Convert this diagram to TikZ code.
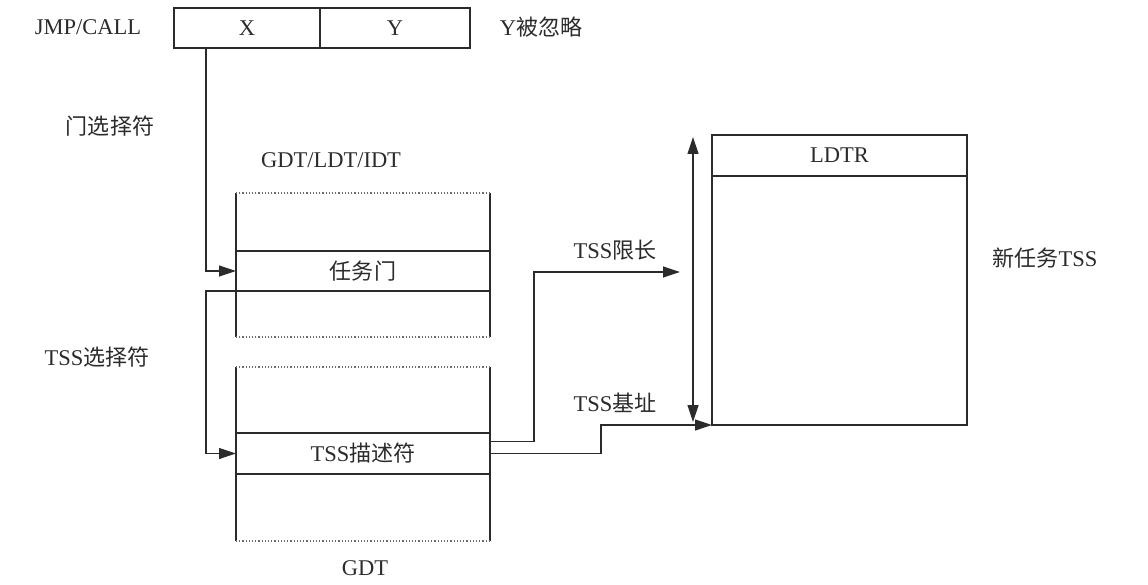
\documentclass[tikz,border=0pt]{standalone}
\usepackage{fontspec}
\setmainfont{Liberation Serif}
\newfontfamily\cjk{Noto Sans CJK SC}[Scale=0.98]
\usetikzlibrary{arrows.meta,positioning}
\definecolor{ink}{HTML}{2B2B2B}
\definecolor{dots}{HTML}{6E6E6E}
\tikzset{
  font=\fontsize{22.5}{26}\selectfont,
  >={Triangle[length=17pt,width=11pt]},
  cell/.style={draw=ink, line width=1.2pt, text=ink, inner sep=0pt,
    outer sep=0pt, minimum height=40pt},
  row/.style={cell, minimum width=254pt},
  frame/.style={inner sep=0pt, outer sep=0pt, minimum width=254pt},
  side/.style={draw=ink, line width=1.2pt},
  dotline/.style={draw=dots, line width=1.2pt, dotted},
  flow/.style={->, draw=ink, line width=1.2pt},
  tag/.style={text=ink, inner sep=1pt}
}

\begin{document}
\begin{tikzpicture}[x=1pt,y=-1pt]
  \useasboundingbox (0,0) rectangle (1148,585);

  % instruction
  \node[tag] (jmp) at (88,27) {JMP/CALL};
  \node[cell, minimum width=146pt] (selx) at (247,28) {X};
  \node[cell, minimum width=150pt, right=0pt of selx] (sely) {Y};
  \node[tag] (ign) at (541,27) {Y{\cjk 被忽略}};

  % descriptor tables
  \node[tag] (gname) at (331,160) {GDT/LDT/IDT};
  \node[frame, minimum height=144pt] (gtab) at (363,265) {};
  \node[row] (gate) at (363,271) {\cjk 任务门};

  \node[frame, minimum height=174pt] (dtab) at (363,454) {};
  \node[row, minimum height=41pt] (desc) at (363,453.5) {TSS{\cjk 描述符}};
  \node[tag] (dname) at (365,568) {GDT};

  \foreach \t in {gtab,dtab}{
    \draw[side] (\t.north west) -- (\t.south west);
    \draw[side] (\t.north east) -- (\t.south east);
    \draw[dotline] (\t.north west) -- (\t.north east);
    \draw[dotline] (\t.south west) -- (\t.south east);
  }

  % new task state segment
  \node[cell, minimum width=255pt, minimum height=290pt] (tss) at (839.5,280) {};
  \node[cell, minimum width=255pt, minimum height=41pt, anchor=north] (ldtr) at (tss.north) {LDTR};
  \node[tag] (newtss) at (1045,258) {{\cjk 新任务}TSS};
  \draw[<->, draw=ink, line width=1.2pt] ([xshift=-19pt,yshift=-2pt]tss.north west)
    -- ([xshift=-19pt,yshift=3pt]tss.south west);

  % selectors
  \node[tag] (gsel) at (110,126) {\cjk 门选择符};
  \node[tag] (tsel) at (97,357) {TSS{\cjk 选择符}};

  % edges
  \coordinate (lim) at (680,272);
  \draw[flow] ([xshift=32pt]selx.south west) |- (gate.west);
  \draw[flow] (gate.south west) -- ++(-30,0) |- (desc.west);
  \draw[flow] ([yshift=12pt]desc.east) -- ++(44,0) |- (lim);
  \draw[flow] (desc.east) -- ++(111,0) |- (tss.south west);
  \node[tag] (limit) at (615,250) {TSS{\cjk 限长}};
  \node[tag] (base) at (615,403) {TSS{\cjk 基址}};
\end{tikzpicture}
\end{document}
